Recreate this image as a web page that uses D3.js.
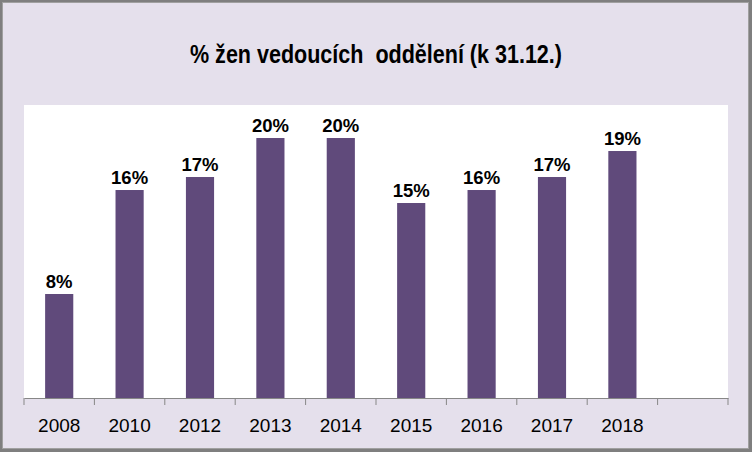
<!DOCTYPE html>
<html>
<head>
<meta charset="utf-8">
<script src="https://cdn.jsdelivr.net/npm/d3@7/dist/d3.min.js"></script>
<style>
  html, body { margin: 0; padding: 0; background: #fff; }
  svg { display: block; }
</style>
</head>
<body>
<svg id="chart" width="752" height="452"></svg>
<script>
const title = "% žen vedoucích  oddělení (k 31.12.)";
const categories = ["2008", "2010", "2012", "2013", "2014", "2015", "2016", "2017", "2018", ""];
const values = [8, 16, 17, 20, 20, 15, 16, 17, 19, null];
const valueLabels = ["8%", "16%", "17%", "20%", "20%", "15%", "16%", "17%", "19%", ""];

const W = 752, H = 452;
const svg = d3.select("#chart");

// outer background and border
svg.append("rect").attr("x", 0).attr("y", 0).attr("width", W).attr("height", H).attr("fill", "#7f7f7f");
svg.append("rect").attr("x", 2).attr("y", 2).attr("width", W - 5).attr("height", H - 5).attr("fill", "#a0a0a0");
svg.append("rect").attr("x", 3).attr("y", 3).attr("width", W - 7).attr("height", H - 7).attr("fill", "#e5e0ec");

const plot = { left: 24, right: 728, top: 105, bottom: 398 };

svg.append("rect")
  .attr("x", plot.left).attr("y", plot.top)
  .attr("width", plot.right - plot.left).attr("height", plot.bottom - plot.top)
  .attr("fill", "#ffffff");

const x = d3.scaleBand().domain(d3.range(categories.length)).range([plot.left, plot.right]).paddingInner(0).paddingOuter(0);
const y = d3.scaleLinear().domain([0, 22.54]).range([plot.bottom, plot.top]);

const barW = x.bandwidth() * 0.4;
const data = values.map((v, i) => ({ i, v, label: valueLabels[i] })).filter(d => d.v != null);

svg.append("g").selectAll("rect").data(data).join("rect")
  .attr("x", d => x(d.i) + (x.bandwidth() - barW) / 2)
  .attr("y", d => y(d.v))
  .attr("width", barW)
  .attr("height", d => y(0) - y(d.v))
  .attr("fill", "#604a7b");

svg.append("g").selectAll("text").data(data).join("text")
  .attr("x", d => x(d.i) + x.bandwidth() / 2)
  .attr("y", d => y(d.v) - 6)
  .attr("text-anchor", "middle")
  .attr("font-family", "Liberation Sans, Arial, sans-serif")
  .attr("font-weight", "bold")
  .attr("font-size", 18.5)
  .attr("fill", "#000")
  .text(d => d.label);

// x axis
const axis = d3.axisBottom(x).tickSize(0).tickFormat(i => categories[i]);
const gx = svg.append("g").attr("transform", `translate(0,${plot.bottom})`).call(axis);
gx.select(".domain").attr("stroke", "#878787").attr("stroke-width", 1.2);
gx.selectAll(".tick text")
  .attr("font-family", "Liberation Sans, Arial, sans-serif")
  .attr("font-size", 19)
  .attr("fill", "#000")
  .attr("dy", 0)
  .attr("y", 34);

// tick marks at band boundaries
const boundaries = d3.range(categories.length + 1).map(i => plot.left + i * x.bandwidth());
svg.append("g").selectAll("line").data(boundaries).join("line")
  .attr("x1", d => d).attr("x2", d => d)
  .attr("y1", plot.bottom).attr("y2", plot.bottom + 7)
  .attr("stroke", "#878787").attr("stroke-width", 1);

// title
svg.append("text")
  .attr("x", 376).attr("y", 63)
  .attr("text-anchor", "middle")
  .attr("font-family", "Liberation Sans, Arial, sans-serif")
  .attr("font-weight", "bold")
  .attr("font-size", 25)
  .attr("textLength", 372)
  .attr("lengthAdjust", "spacingAndGlyphs")
  .attr("xml:space", "preserve")
  .style("white-space", "pre")
  .attr("fill", "#000")
  .text(title);
</script>
</body>
</html>
